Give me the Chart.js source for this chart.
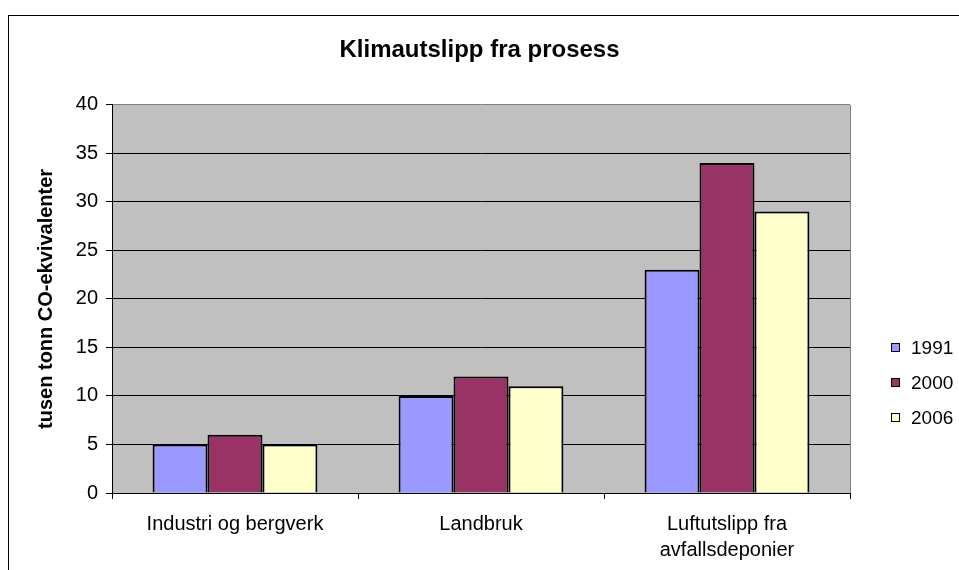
<!DOCTYPE html>
<html>
<head>
<meta charset="utf-8">
<script src="https://cdn.jsdelivr.net/npm/chart.js@4.4.1/dist/chart.umd.min.js"></script>
<style>
  body { margin: 0; background: #fff; }
  canvas { display: block; }
</style>
</head>
<body>
<canvas id="chart" width="959" height="570"></canvas>
<script>
const categories = ["Industri og bergverk", "Landbruk", ["Luftutslipp fra", "avfallsdeponier"]];
const years = ["1991", "2000", "2006"];
const values1991 = [5, 10, 23];
const values2000 = [6, 12, 34];
const values2006 = [5, 11, 29];
const colors = ["#9999FF", "#993366", "#FFFFCC"];

const FONT = "'Liberation Sans', Arial, sans-serif";

// Excel-like frame, grey plot area and right-hand legend
const excelLook = {
  id: "excelLook",
  beforeDraw(chart) {
    const { ctx, chartArea: a } = chart;
    ctx.save();
    ctx.fillStyle = "#fff";
    ctx.fillRect(0, 0, chart.width, chart.height);
    ctx.strokeStyle = "#000";
    ctx.lineWidth = 1;
    ctx.strokeRect(8.5, 15.5, 2000, 2000);
    ctx.fillStyle = "#C0C0C0";
    ctx.fillRect(a.left, a.top, a.right - a.left, a.bottom - a.top);
    ctx.restore();
  },
  beforeDatasetsDraw(chart) {
    const { ctx, chartArea: a } = chart;
    ctx.save();
    ctx.strokeStyle = "#808080";
    ctx.lineWidth = 1;
    ctx.beginPath();
    ctx.moveTo(a.right + 0.5, a.top);
    ctx.lineTo(a.right + 0.5, a.bottom);
    ctx.stroke();
    ctx.restore();
  },
  afterDraw(chart) {
    const { ctx } = chart;
    ctx.save();
    ctx.font = "19px " + FONT;
    ctx.textBaseline = "middle";
    ctx.textAlign = "left";
    chart.data.datasets.forEach((ds, i) => {
      const y = 348 + i * 35;
      ctx.fillStyle = ds.backgroundColor;
      ctx.fillRect(891, y - 5, 9, 9);
      ctx.strokeStyle = "#000";
      ctx.lineWidth = 1;
      ctx.strokeRect(891.5, y - 4.5, 8, 8);
      ctx.fillStyle = "#000";
      ctx.fillText(ds.label, 911, y + 1);
    });
    ctx.restore();
  }
};

new Chart(document.getElementById("chart"), {
  type: "bar",
  data: {
    labels: categories,
    datasets: [
      { label: years[0], data: values1991, backgroundColor: colors[0] },
      { label: years[1], data: values2000, backgroundColor: colors[1] },
      { label: years[2], data: values2006, backgroundColor: colors[2] }
    ]
  },
  options: {
    responsive: false,
    animation: false,
    events: [],
    layout: { padding: 0 },
    datasets: {
      bar: {
        categoryPercentage: 0.67,
        barPercentage: 1,
        borderColor: "#000",
        borderWidth: 2
      }
    },
    plugins: {
      legend: { display: false },
      tooltip: { enabled: false },
      title: {
        display: true,
        text: "Klimautslipp fra prosess",
        color: "#000",
        font: { family: FONT, size: 24, weight: "bold", lineHeight: 1.2 },
        padding: { top: 36, bottom: 40 }
      }
    },
    scales: {
      x: {
        grid: {
          display: true,
          drawOnChartArea: false,
          drawTicks: true,
          tickLength: 6,
          color: "#000",
          offset: true
        },
        border: { color: "#000", width: 1 },
        ticks: {
          color: "#000",
          padding: 12,
          maxRotation: 0,
          autoSkip: false,
          font: { family: FONT, size: 20, lineHeight: 1.3 }
        },
        afterFit(scale) { scale.height = 77; }
      },
      y: {
        min: 0,
        max: 40,
        ticks: {
          stepSize: 5,
          color: "#000",
          padding: 8,
          font: { family: FONT, size: 20 }
        },
        grid: {
          color: ctx => (ctx.tick && ctx.tick.value === 40 ? "#808080" : "#000"),
          tickColor: "#000",
          tickLength: 6,
          drawTicks: true
        },
        border: { color: "#000", width: 1 },
        title: {
          display: true,
          text: "tusen tonn CO-ekvivalenter",
          color: "#000",
          font: { family: FONT, size: 20, weight: "bold", lineHeight: 1.2 },
          padding: { top: 34, bottom: 0 }
        },
        afterFit(scale) { scale.width = 112; }
      },
      // empty right-hand axis that reserves the legend column
      legendSpace: {
        type: "linear",
        position: "right",
        display: true,
        grid: { display: false, drawTicks: false },
        border: { display: false },
        ticks: { display: false },
        afterFit(scale) { scale.width = 109; }
      }
    }
  },
  plugins: [excelLook]
});
</script>
</body>
</html>
